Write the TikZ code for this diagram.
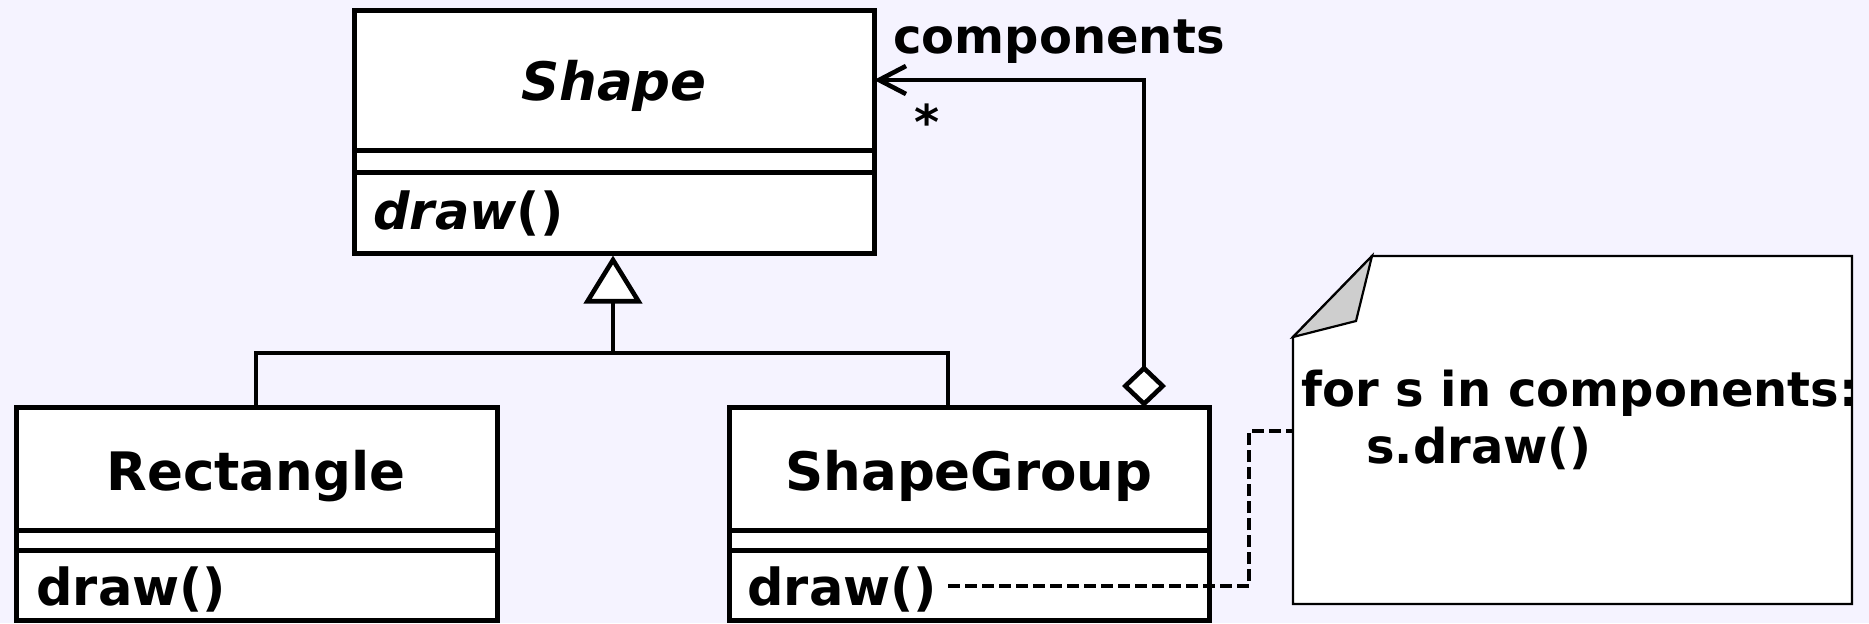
\documentclass[tikz,border=0pt]{standalone}
\usepackage{fontspec}
\setmainfont{DejaVu Sans}
\usetikzlibrary{arrows.meta,fit}
\definecolor{canvas}{RGB}{245,243,255}
\definecolor{foldgray}{RGB}{206,206,206}
\begin{document}
\begin{tikzpicture}[x=0.5pt,y=-0.5pt,
  box/.style={draw=black,fill=white,line width=2.5pt,inner sep=0pt},
  bar/.style={line width=2.5pt},
  clsname/.style={font=\bfseries\fontsize{26.5}{31}\selectfont,inner sep=0pt,anchor=base},
  op/.style={font=\bfseries\fontsize{25.5}{30}\selectfont,inner sep=0pt,anchor=base west},
  lbl/.style={font=\bfseries\fontsize{24}{29}\selectfont,inner sep=0pt,anchor=base west},
  link/.style={line width=2.3pt},
  notebox/.style={draw=black,fill=white,line width=1.1pt,line join=miter},
]
\fill[canvas] (0,0) rectangle (1869,623);
\useasboundingbox (0,0) rectangle (1869,623);

% class Shape
\node[box,fit={(354,10)(874,253)}] (shape) {};
\draw[bar] (354,150) -- (874,150) (354,172) -- (874,172);
\node[clsname] (shapename) at (614,100) {\itshape Shape};
\node[op] (shapeop) at (373,229) {\textit{draw}()};

% class Rectangle
\node[box,fit={(16,407)(497,620)}] (rectangle) {};
\draw[bar] (16,530) -- (497,530) (16,550) -- (497,550);
\node[clsname] (rectname) at (256,490) {Rectangle};
\node[op] (rectop) at (36,605) {draw()};

% class ShapeGroup
\node[box,fit={(729,407)(1209,620)}] (group) {};
\draw[bar] (729,530) -- (1209,530) (729,550) -- (1209,550);
\node[clsname] (groupname) at (969,490) {ShapeGroup};
\node[op] (groupop) at (747,605) {draw()};

% generalisation
\coordinate (junction) at (613,353);
\coordinate (recttop) at (256,407);
\coordinate (grouptop) at (948,407);
\draw[link] (recttop) |- (junction) -| (grouptop);
\draw[link,-{Triangle[fill=white,length=24pt,width=29pt]}] (junction) -- (junction |- shape.south);

% aggregation
\coordinate (aggfoot) at (1144,407);
\coordinate (aggend) at (874,80);
\draw[link,{Diamond[fill=white,length=21pt,width=22pt]}-{Straight Barb[length=13.5pt,width=14pt]}]
  (aggfoot) |- (aggend);
\node[lbl] (rolename) at (893,53) {components};
\node[lbl] (multiplicity) at (914,139) {*};

% note
\node[fit={(1293,256)(1852,604)},inner sep=0pt] (note) {};
\draw[notebox] (1293,337) -- (1372,256) -- (1852,256) -- (1852,604) -- (1293,604) -- cycle;
\draw[notebox,fill=foldgray] (1293,337) -- (1372,256) -- (1356,321) -- cycle;
\node[lbl] (notel1) at (1301,406) {for s in components:};
\node[lbl] (notel2) at (1366,463) {s.draw()};

% note anchor
\coordinate (dstart) at (948,586);
\coordinate (dbend) at (1249,431);
\draw[link,dash pattern=on 6pt off 2.5pt] (dstart) -| (dbend) -- (dbend -| note.west);
\end{tikzpicture}
\end{document}
